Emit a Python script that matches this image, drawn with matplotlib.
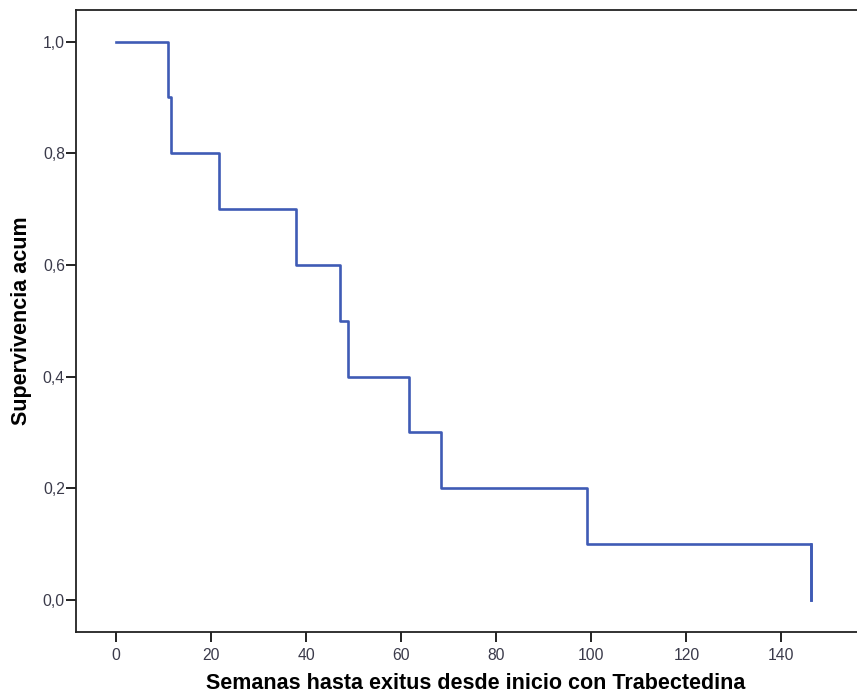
import numpy as np
import matplotlib.pyplot as plt
from matplotlib.ticker import FuncFormatter

plt.rcParams['font.family'] = ['Liberation Sans', 'DejaVu Sans']

# tiempos de evento (semanas) y supervivencia acumulada
weeks = [0, 11.0, 11.5, 21.6, 37.8, 47.1, 48.8, 61.7, 68.3, 99.0, 146.3]
survival = [1.0, 0.9, 0.8, 0.7, 0.6, 0.5, 0.4, 0.3, 0.2, 0.1, 0.0]
x_ticks = [0, 20, 40, 60, 80, 100, 120, 140]
y_ticks = [0.0, 0.2, 0.4, 0.6, 0.8, 1.0]

fig = plt.figure(figsize=(8.57, 6.95), dpi=100)
ax = fig.add_axes([0.0887, 0.0911, 0.9113, 0.894])

# curva de Kaplan-Meier en escalera
ax.step(weeks, survival, where='post', color='#3f5bb5', lw=1.9)
ax.plot([weeks[-1], weeks[-1]], [survival[-2], survival[-1]], color='#3f5bb5', lw=1.9)

ax.set_xlim(-8.46, 155.9)
ax.set_ylim(-0.0568, 1.0559)
ax.set_xticks(x_ticks)
ax.set_yticks(y_ticks)
ax.yaxis.set_major_formatter(FuncFormatter(lambda v, p: f'{v:.1f}'.replace('.', ',')))

for s in ['left', 'bottom', 'top']:
    ax.spines[s].set_linewidth(1.3)
    ax.spines[s].set_color('#222222')
ax.spines['right'].set_visible(False)
ax.tick_params(direction='out', length=7, width=1.3, color='#111111',
               labelsize=11.3, labelcolor='#3a3a4a')
ax.tick_params(axis='y', pad=1)
ax.tick_params(axis='x', pad=5)

ax.set_xlabel('Semanas hasta exitus desde inicio con Trabectedina',
              fontsize=15.5, fontweight='bold', labelpad=7)
ax.xaxis.label.set_x(0.512)
ax.set_ylabel('Supervivencia acum', fontsize=15.5, fontweight='bold', labelpad=8)

fig.savefig('out.png', dpi=100)
